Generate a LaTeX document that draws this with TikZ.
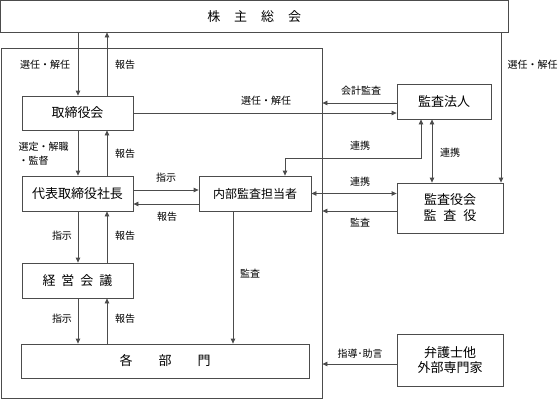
\documentclass[tikz,border=0pt]{standalone}
\usepackage{fontspec}
\setmainfont{Noto Sans CJK JP}
\usetikzlibrary{arrows.meta,calc}
\definecolor{lc}{gray}{0.3}
\tikzset{
  box/.style={draw=lc, line width=0.8pt, inner sep=0pt, align=center,
    font=\fontsize{13}{16}\selectfont},
  lbl/.style={inner sep=0pt, font=\fontsize{10}{14}\selectfont},
  tip/.tip={Triangle[length=5pt,width=4.5pt]},
  arr/.style={draw=lc, line width=0.8pt, -tip},
  darr/.style={draw=lc, line width=0.8pt, tip-tip},
}
\begin{document}
\begin{tikzpicture}[x=1pt,y=-1pt]
\useasboundingbox (0,0) rectangle (560,399);
% boxes
\node[box, minimum width=507.5pt, minimum height=31.5pt] (soukai) at (254.25,16.25)
  {株\hspace{14pt}主\hspace{14pt}総\hspace{14pt}会};
\node[box, minimum width=321pt, minimum height=350pt] (company) at (161.5,223) {};
\node[box, minimum width=111pt, minimum height=34pt] (tori) at (77.5,113) {取締役会};
\node[box, minimum width=111pt, minimum height=35pt] (daihyo) at (77.5,193.5) {代表取締役社長};
\node[box, minimum width=111pt, minimum height=35pt] (keiei) at (77.5,280.5)
  {経\hspace{6pt}営\hspace{6pt}会\hspace{6pt}議};
\node[box, minimum width=288pt, minimum height=34pt] (kakubu) at (165,361)
  {各\hspace{26pt}部\hspace{26pt}門};
\node[box, minimum width=112pt, minimum height=35pt, font=\fontsize{12}{14}\selectfont] (naibu) at (255,193.5) {内部監査担当者};
\node[box, minimum width=94pt, minimum height=35pt] (hojin) at (444,101.5) {監査法人};
\node[box, minimum width=106pt, minimum height=50pt] (yaku) at (450,208)
  {監査役会\\監\hspace{7pt}査\hspace{7pt}役};
\node[box, minimum width=106pt, minimum height=52pt, font=\fontsize{13}{15}\selectfont] (bengo) at (450,360)
  {弁護士他\\外部専門家};
% reference coordinates
\coordinate (xa) at (78,0);
\coordinate (xb) at (107,0);
\coordinate (xr) at (501,0);
\coordinate (xj1) at (421,0);
\coordinate (xj2) at (432,0);
\coordinate (xn) at (285,0);
\coordinate (xk) at (233,0);
\coordinate (ya) at (0,103);
\coordinate (yb) at (0,190);
\coordinate (yc) at (0,204);
\coordinate (yd) at (0,211);
\coordinate (ye) at (0,364);
\coordinate (yf) at (0,158);
% connectors
\draw[arr] (soukai.south -| xa) -- (tori.north -| xa);
\draw[arr] (tori.north -| xb) -- (soukai.south -| xb);
\draw[arr] (tori.south -| xa) -- (daihyo.north -| xa);
\draw[arr] (daihyo.north -| xb) -- (tori.south -| xb);
\draw[arr] (daihyo.south -| xa) -- (keiei.north -| xa);
\draw[arr] (keiei.north -| xb) -- (daihyo.south -| xb);
\draw[arr] (keiei.south -| xa) -- (kakubu.north -| xa);
\draw[arr] (kakubu.north -| xb) -- (keiei.south -| xb);
\draw[arr] (daihyo.east |- yb) -- (naibu.west |- yb);
\draw[arr] (naibu.west |- yc) -- (daihyo.east |- yc);
\draw[arr] (naibu.south -| xk) -- (kakubu.north -| xk);
\draw[arr] (tori.east) -- (tori.east -| hojin.west);
\draw[arr] (hojin.west |- ya) -- (company.east |- ya);
\draw[arr] (soukai.south -| xr) -- (yaku.north -| xr);
\draw[darr] (hojin.south -| xj2) -- (yaku.north -| xj2);
\draw[darr] (hojin.south -| xj1) -- (xj1 |- yf) -- (xn |- yf) -- (naibu.north -| xn);
\draw[darr] (naibu.east) -- (naibu.east -| yaku.west);
\draw[arr] (yaku.west |- yd) -- (company.east |- yd);
\draw[arr] (bengo.west |- ye) -- (company.east |- ye);
% labels
\node[lbl] (l1) at (45,65) {選任・解任};
\node[lbl] (l2) at (125,65) {報告};
\node[lbl] (l3) at (266,101) {選任・解任};
\node[lbl] (l4) at (361,91) {会計監査};
\node[lbl, anchor=west] (l5) at (507.5,65) {選任・解任};
\node[lbl, align=left, anchor=west] (l6) at (18.5,154) {選定・解職\\・監督};
\node[lbl] (l7) at (125,154) {報告};
\node[lbl] (l8) at (166,178) {指示};
\node[lbl] (l9) at (167,217) {報告};
\node[lbl] (l10) at (360,146) {連携};
\node[lbl] (l11) at (450,153) {連携};
\node[lbl] (l12) at (360,182) {連携};
\node[lbl] (l13) at (360,223) {監査};
\node[lbl] (l14) at (62,236) {指示};
\node[lbl] (l15) at (125,236) {報告};
\node[lbl] (l16) at (62,319) {指示};
\node[lbl] (l17) at (125,319) {報告};
\node[lbl] (l18) at (250,274) {監査};
\node[lbl] (l19) at (360,354) {指導･助言};
\end{tikzpicture}
\end{document}
